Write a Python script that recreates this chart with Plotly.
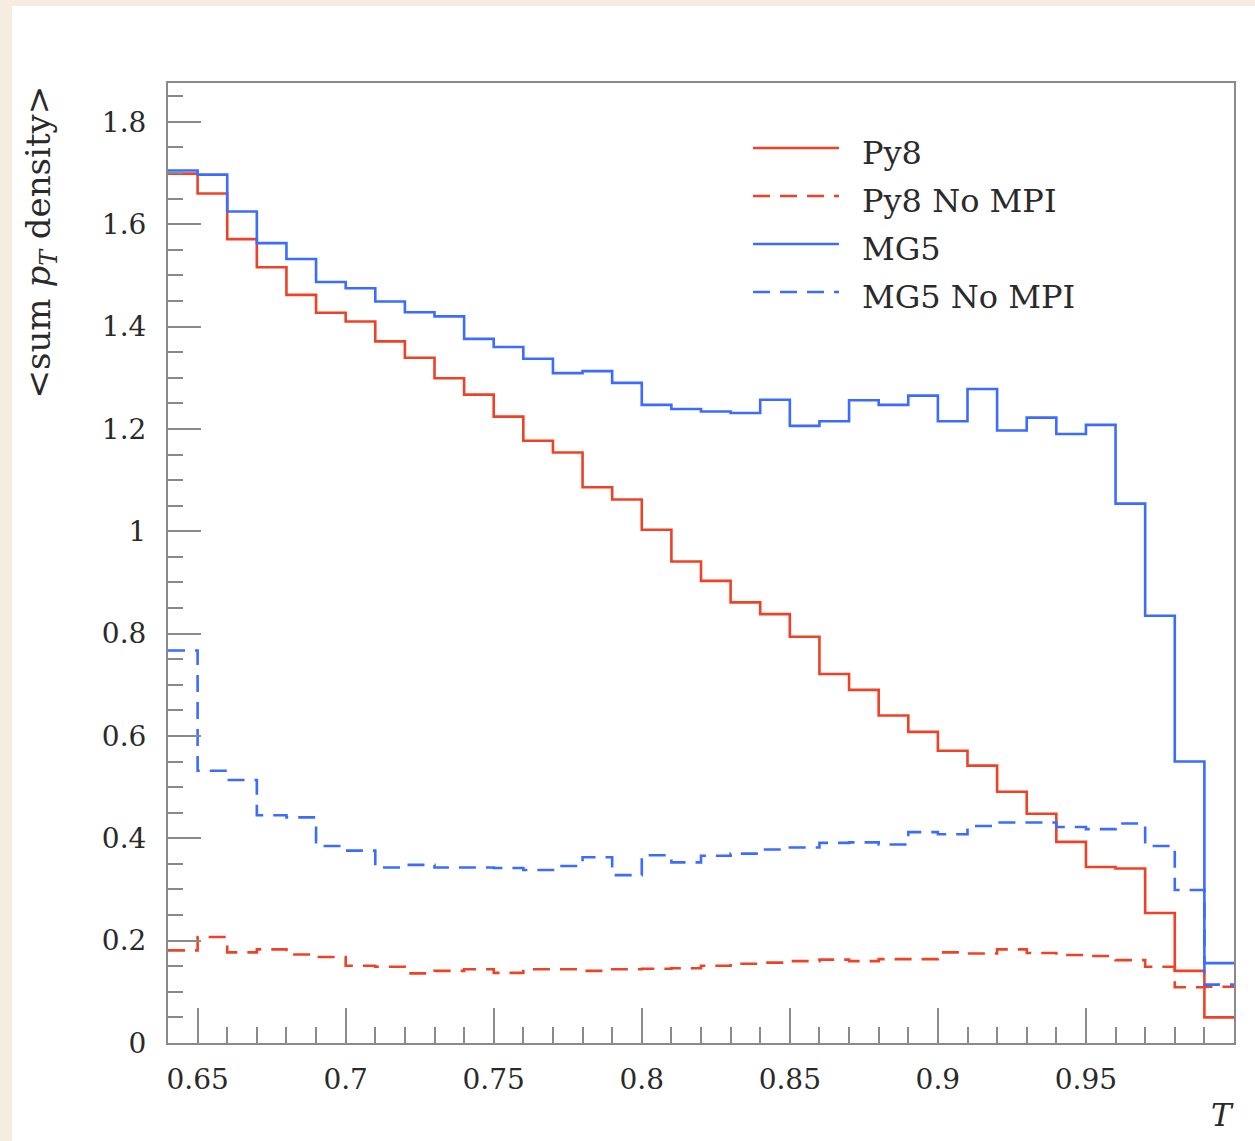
import plotly.graph_objects as go

# ---------------- data ----------------
bin_edges = [round(0.64 + 0.01 * i, 2) for i in range(37)]

py8 = [1.699, 1.660, 1.571, 1.516, 1.462, 1.427, 1.410, 1.371, 1.339, 1.299,
       1.267, 1.224, 1.177, 1.154, 1.086, 1.062, 1.003, 0.941, 0.903, 0.861,
       0.838, 0.794, 0.721, 0.690, 0.640, 0.608, 0.571, 0.542, 0.491, 0.448,
       0.393, 0.344, 0.341, 0.254, 0.141, 0.050]

py8_nompi = [0.181, 0.207, 0.177, 0.183, 0.173, 0.168, 0.151, 0.149, 0.136, 0.141,
             0.144, 0.137, 0.144, 0.144, 0.141, 0.144, 0.145, 0.146, 0.151, 0.155,
             0.157, 0.160, 0.163, 0.160, 0.164, 0.164, 0.177, 0.175, 0.183, 0.176,
             0.172, 0.170, 0.162, 0.149, 0.109, 0.110]

mg5 = [1.705, 1.697, 1.625, 1.563, 1.532, 1.487, 1.475, 1.449, 1.428, 1.420,
       1.376, 1.360, 1.337, 1.309, 1.313, 1.290, 1.247, 1.239, 1.234, 1.231,
       1.257, 1.206, 1.215, 1.256, 1.247, 1.265, 1.215, 1.278, 1.197, 1.222,
       1.190, 1.208, 1.054, 0.835, 0.550, 0.156]

mg5_nompi = [0.767, 0.532, 0.514, 0.445, 0.441, 0.385, 0.376, 0.343, 0.348, 0.343,
             0.343, 0.342, 0.338, 0.346, 0.363, 0.328, 0.367, 0.353, 0.366, 0.370,
             0.378, 0.382, 0.391, 0.392, 0.388, 0.412, 0.408, 0.424, 0.431, 0.431,
             0.422, 0.418, 0.429, 0.385, 0.299, 0.114]

series_names = ["Py8", "Py8 No MPI", "MG5", "MG5 No MPI"]
series_values = [py8, py8_nompi, mg5, mg5_nompi]

x_tickvals = [0.65, 0.7, 0.75, 0.8, 0.85, 0.9, 0.95]
x_ticktext = ["0.65", "0.7", "0.75", "0.8", "0.85", "0.9", "0.95"]
y_tickvals = [0, 0.2, 0.4, 0.6, 0.8, 1.0, 1.2, 1.4, 1.6, 1.8]
y_ticktext = ["0", "0.2", "0.4", "0.6", "0.8", "1", "1.2", "1.4", "1.6", "1.8"]

# ---------------- style ----------------
RED = "#EF4125"
BLUE = "#3C6CFF"
colors = [RED, RED, BLUE, BLUE]
dashes = ["solid", "17px,10px", "solid", "17px,10px"]
FONT = "DejaVu Serif"
AX = "#8a8a8a"
TXT = "#2a2a2a"

fig = go.Figure()
for name, vals, c, d in zip(series_names, series_values, colors, dashes):
    fig.add_trace(go.Scatter(
        x=bin_edges, y=vals + [vals[-1]], name=name, mode="lines",
        line=dict(color=c, width=2.6, dash=d, shape="hv"),
        showlegend=False, hoverinfo="skip"))

L, R, T, B = 168, 21, 83, 98
W, H = 1255, 1141
pw, ph = W - L - R, H - T - B

def px(xp):
    return (xp - L) / pw

def py(yp):
    return (H - B - yp) / ph

shapes = [
    dict(type="rect", xref="paper", yref="paper", layer="below",
         x0=px(12), x1=px(W + 5), y0=py(H + 5), y1=py(6),
         fillcolor="white", line=dict(width=0)),
]
annotations = []

leg_rows = [148, 196, 244, 292]
for name, c, d, ry in zip(series_names, colors, dashes, leg_rows):
    shapes.append(dict(type="line", xref="paper", yref="paper",
                       x0=px(753), x1=px(839), y0=py(ry), y1=py(ry),
                       line=dict(color=c, width=2.6, dash=d)))
    annotations.append(dict(xref="paper", yref="paper", x=px(860), y=py(ry),
                            xanchor="left", yanchor="middle", yshift=-5,
                            text=name, showarrow=False,
                            font=dict(family=FONT, size=32, color=TXT)))

annotations.append(dict(xref="paper", yref="paper", x=px(40), y=py(84),
                        xanchor="center", yanchor="top", textangle=-90,
                        text="&lt;sum <i>p</i><sub><i>T</i></sub> density&gt;",
                        showarrow=False,
                        font=dict(family=FONT, size=34, color=TXT)))
annotations.append(dict(xref="paper", yref="paper", x=px(1222), y=py(1115),
                        xanchor="center", yanchor="middle",
                        text="<i>T</i>", showarrow=False,
                        font=dict(family=FONT, size=31, color=TXT)))

fig.update_layout(
    width=W, height=H,
    margin=dict(l=L, r=R, t=T, b=B, pad=0),
    paper_bgcolor="#f5eee0",
    plot_bgcolor="white",
    shapes=shapes,
    annotations=annotations,
    showlegend=False,
)

fig.update_xaxes(
    range=[0.64, 1.0], showgrid=False, zeroline=False,
    showline=True, linecolor=AX, linewidth=2, mirror=True,
    ticks="inside", ticklen=35, tickwidth=2, tickcolor=AX,
    tickvals=x_tickvals, ticktext=x_ticktext,
    tickfont=dict(family=FONT, size=28, color=TXT),
    ticklabelstandoff=10,
    minor=dict(dtick=0.01, tick0=0.64, ticks="inside", ticklen=16,
               tickwidth=2, tickcolor=AX, showgrid=False),
)
fig.update_yaxes(
    range=[0, 1.876], showgrid=False, zeroline=False,
    showline=True, linecolor=AX, linewidth=2, mirror=True,
    ticks="inside", ticklen=33, tickwidth=2, tickcolor=AX,
    tickvals=y_tickvals, ticktext=y_ticktext,
    tickfont=dict(family=FONT, size=28, color=TXT),
    ticklabelstandoff=14,
    minor=dict(dtick=0.05, tick0=0, ticks="inside", ticklen=15,
               tickwidth=2, tickcolor=AX, showgrid=False),
)

fig.write_html("out.html")
